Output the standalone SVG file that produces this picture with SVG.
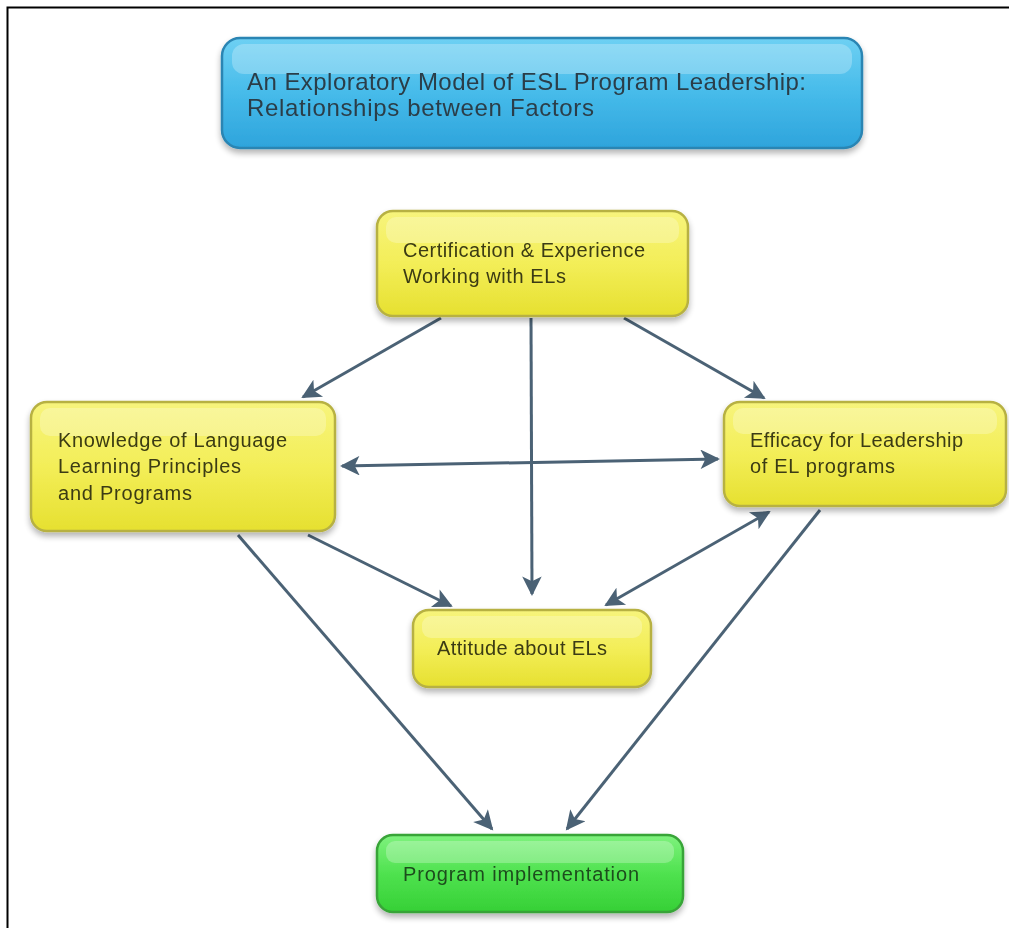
<svg xmlns="http://www.w3.org/2000/svg" width="1009" height="928" viewBox="0 0 1009 928">
<style>
.node text{font-family:"Liberation Sans",Arial,sans-serif;font-size:20px;fill:#3b3b12}
.title text{font-family:"Liberation Sans",Arial,sans-serif;font-size:24px;fill:#2c3e48}
.green text{fill:#1d4d1d}
.conn line{stroke:#4b6275;stroke-width:3;fill:none}
.y{fill:url(#gy);stroke:#b7b143;stroke-width:2.5}
.hl{fill:#ffffff;opacity:0.25}
</style>
<defs>
<linearGradient id="gy" x1="0" y1="0" x2="0" y2="1">
<stop offset="0" stop-color="#f7f47c"/>
<stop offset="0.5" stop-color="#f3ee58"/>
<stop offset="1" stop-color="#e6e030"/>
</linearGradient>
<linearGradient id="gb" x1="0" y1="0" x2="0" y2="1">
<stop offset="0" stop-color="#6ed0f3"/>
<stop offset="0.5" stop-color="#46bbea"/>
<stop offset="1" stop-color="#2ea4dc"/>
</linearGradient>
<linearGradient id="gg" x1="0" y1="0" x2="0" y2="1">
<stop offset="0" stop-color="#7ff27e"/>
<stop offset="0.5" stop-color="#4fe24f"/>
<stop offset="1" stop-color="#36d036"/>
</linearGradient>
<filter id="sh" x="-10%" y="-10%" width="120%" height="130%">
<feGaussianBlur in="SourceAlpha" stdDeviation="3"/>
<feOffset dx="0" dy="4"/>
<feComponentTransfer><feFuncA type="linear" slope="0.3"/></feComponentTransfer>
<feMerge><feMergeNode/><feMergeNode in="SourceGraphic"/></feMerge>
</filter>
<marker id="ah" viewBox="0 0 10 10" refX="9" refY="5" markerWidth="7.5" markerHeight="6.5" markerUnits="strokeWidth" orient="auto-start-reverse">
<path d="M0,0 L10,5 L0,10 L2.5,5 Z" fill="#4b6275"/>
</marker>
</defs>
<rect x="0" y="0" width="1009" height="928" fill="#ffffff"/>
<path d="M7.5,928 V7.5 H1009" fill="none" stroke="#000" stroke-width="2"/>

<g id="title" class="title" filter="url(#sh)">
<rect x="222" y="38" width="640" height="110" rx="18" fill="url(#gb)" stroke="#2b85b3" stroke-width="2.5"/>
<rect x="232" y="44" width="620" height="30" rx="12" class="hl"/>
<text x="247" y="90" textLength="559" lengthAdjust="spacing">An Exploratory Model of ESL Program Leadership:</text>
<text x="247" y="116" textLength="347" lengthAdjust="spacing">Relationships between Factors</text>
</g>

<g class="conn" id="connectors">
<line x1="441" y1="318" x2="303" y2="397" marker-end="url(#ah)"/>
<line x1="531" y1="318" x2="532" y2="594" marker-end="url(#ah)"/>
<line x1="624" y1="318" x2="764" y2="398" marker-end="url(#ah)"/>
<line x1="342" y1="466" x2="718" y2="459" marker-start="url(#ah)" marker-end="url(#ah)"/>
<line x1="308" y1="535" x2="451" y2="606" marker-end="url(#ah)"/>
<line x1="769" y1="512" x2="606" y2="605" marker-start="url(#ah)" marker-end="url(#ah)"/>
<line x1="238" y1="535" x2="492" y2="829" marker-end="url(#ah)"/>
<line x1="820" y1="510" x2="567" y2="829" marker-end="url(#ah)"/>
</g>

<g id="cert" class="node" filter="url(#sh)">
<rect x="377" y="211" width="311" height="105" rx="16" class="y"/>
<rect x="386" y="217" width="293" height="26" rx="10" class="hl"/>
<text x="403" y="257" textLength="242" lengthAdjust="spacing">Certification &amp; Experience</text>
<text x="403" y="283" textLength="163" lengthAdjust="spacing">Working with ELs</text>
</g>

<g id="knowledge" class="node" filter="url(#sh)">
<rect x="31" y="402" width="304" height="129" rx="16" class="y"/>
<rect x="40" y="408" width="286" height="28" rx="10" class="hl"/>
<text x="58" y="447" textLength="229" lengthAdjust="spacing">Knowledge of Language</text>
<text x="58" y="473" textLength="183" lengthAdjust="spacing">Learning Principles</text>
<text x="58" y="500" textLength="134" lengthAdjust="spacing">and Programs</text>
</g>

<g id="efficacy" class="node" filter="url(#sh)">
<rect x="724" y="402" width="282" height="104" rx="16" class="y"/>
<rect x="733" y="408" width="264" height="26" rx="10" class="hl"/>
<text x="750" y="447" textLength="213" lengthAdjust="spacing">Efficacy for Leadership</text>
<text x="750" y="473" textLength="145" lengthAdjust="spacing">of EL programs</text>
</g>

<g id="attitude" class="node" filter="url(#sh)">
<rect x="413" y="610" width="238" height="77" rx="16" class="y"/>
<rect x="422" y="616" width="220" height="22" rx="9" class="hl"/>
<text x="437" y="655" textLength="170" lengthAdjust="spacing">Attitude about ELs</text>
</g>

<g id="program" class="node green" filter="url(#sh)">
<rect x="377" y="835" width="306" height="77" rx="16" fill="url(#gg)" stroke="#37a437" stroke-width="2.5"/>
<rect x="386" y="841" width="288" height="22" rx="9" class="hl"/>
<text x="403" y="881" textLength="236" lengthAdjust="spacing">Program implementation</text>
</g>
</svg>
